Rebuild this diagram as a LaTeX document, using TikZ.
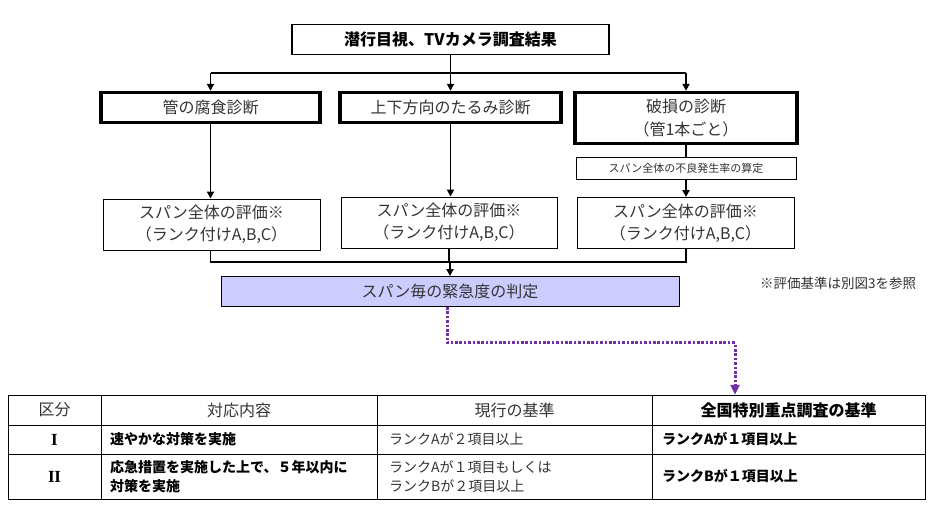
\documentclass[tikz,border=0pt]{standalone}
\usepackage{fontspec}
\setmainfont{Noto Sans CJK JP}
\newfontfamily\romanfont{Liberation Serif}
\usetikzlibrary{arrows.meta,calc}
\definecolor{txt}{HTML}{333333}
\definecolor{lav}{HTML}{CCCCFF}
\definecolor{purp}{HTML}{7030A0}
\begin{document}
\begin{tikzpicture}[x=1pt,y=-1pt,
  thickbox/.style={draw=black,line width=3.4pt,inner sep=0pt,text=txt,font=\fontsize{16}{23}\selectfont,align=center},
  thinbox/.style={draw=black,line width=0.9pt,inner sep=0pt,text=txt,align=center},
  conn/.style={line width=1.8pt,draw=black},
  arr/.style={conn,-{Triangle[length=7pt,width=7pt]}},
  cell/.style={anchor=center,inner sep=0pt,text=black},
  lcell/.style={anchor=west,inner sep=0pt,text=black,align=left},
]
\useasboundingbox (0,0) rectangle (939,520);
\fill[white] (0,0) rectangle (939,520);

% title
\node[draw=black,line width=1.2pt,minimum width=317pt,minimum height=30pt,inner sep=0pt,font=\fontsize{16}{20}\selectfont\bfseries] (t) at (450.5,39.5) {潜行目視、TVカメラ調査結果};

% diagnosis boxes
\node[thickbox,minimum width=219pt,minimum height=30pt] (a) at (210.5,107.5) {管の腐食診断};
\node[thickbox,minimum width=221pt,minimum height=30pt] (b) at (450.5,107.5) {上下方向のたるみ診断};
\node[thickbox,minimum width=222pt,minimum height=51pt] (c) at (686,118) {破損の診断\\（管1本ごと）};

% small box
\node[thinbox,minimum width=220pt,minimum height=22pt,font=\fontsize{11}{12}\selectfont] (s) at (686,168.5) {スパン全体の不良発生率の算定};

% evaluation boxes
\node[thinbox,minimum width=217pt,minimum height=51pt,font=\fontsize{16}{22}\selectfont] (e1) at (211.5,224.5) {スパン全体の評価※\\（ランク付けA,B,C）};
\node[thinbox,minimum width=216pt,minimum height=51pt,font=\fontsize{16}{22}\selectfont] (e2) at (449,222.5) {スパン全体の評価※\\（ランク付けA,B,C）};
\node[thinbox,minimum width=217pt,minimum height=51pt,font=\fontsize{16}{22}\selectfont] (e3) at (685.5,223) {スパン全体の評価※\\（ランク付けA,B,C）};

% urgency box
\node[thinbox,fill=lav,minimum width=458pt,minimum height=30pt,font=\fontsize{16}{20}\selectfont] (p) at (450,291.5) {スパン毎の緊急度の判定};

% note
\node[inner sep=0pt,text=txt,font=\fontsize{13.5}{16}\selectfont] (n) at (838,283) {※評価基準は別図3を参照};

% connectors
\coordinate (br) at (450.5,73);
\coordinate (jn) at (449,262);
\draw[conn] (t.south) -- (br);
\draw[conn] (a.north |- br) -- (c.north |- br);
\draw[arr] (a.north |- br) -- (a.north);
\draw[arr] (br) -- (b.north);
\draw[arr] (c.north |- br) -- (c.north);
\draw[conn] (c.south) -- (s.north);
\draw[arr] (s.south) -- (s.south |- e3.north);
\draw[arr] (a.south) -- (a.south |- e1.north);
\draw[arr] (b.south) -- (b.south |- e2.north);
\draw[conn] (e1.south -| a.south) -- (a.south |- jn) -- (c.south |- jn) -- (c.south |- e3.south);
\draw[conn] (e2.south) -- (e2.south |- jn);
\draw[arr] (p.north |- jn) -- (p.north);

% table geometry
\coordinate (arrtip) at (735,395);
\draw[purp,line width=3pt,dash pattern=on 2.6pt off 1.8pt] ($(p.south)+(-3,0)$) -- ++(0,36) -| ($(arrtip)+(0,-9)$);
\draw[purp,fill=purp] ($(arrtip)+(-4.5,-10)$) -- ($(arrtip)+(4.5,-10)$) -- ($(arrtip)+(0,-1)$) -- cycle;

\draw[line width=0.9pt] (8,395) rectangle (925,499);
\draw[line width=0.9pt] (8,425) -- (925,425);
\draw[line width=0.9pt] (8,454) -- (925,454);
\draw[line width=0.9pt] (101,395) -- (101,499);
\draw[line width=0.9pt] (377,395) -- (377,499);
\draw[line width=0.9pt] (652,395) -- (652,499);

% table header
\node[cell,text=txt,font=\fontsize{16}{20}\selectfont] (h1) at (54.5,410) {区分};
\node[cell,text=txt,font=\fontsize{16}{20}\selectfont] (h2) at (239,410) {対応内容};
\node[cell,text=txt,font=\fontsize{16}{20}\selectfont] (h3) at (514.5,410) {現行の基準};
\node[cell,font=\fontsize{16}{20}\selectfont\bfseries] (h4) at (788.5,410) {全国特別重点調査の基準};

% row 1
\node[cell,font=\fontsize{17}{19}\romanfont\bfseries] (r1a) at (54.5,439.5) {I};
\node[lcell,font=\fontsize{14}{19}\selectfont\bfseries] (r1b) at (110,439.5) {速やかな対策を実施};
\node[lcell,text=txt,font=\fontsize{14}{19}\selectfont] (r1c) at (389,439.5) {ランクAが２項目以上};
\node[lcell,font=\fontsize{14}{19}\selectfont\bfseries] (r1d) at (662,439.5) {ランクAが１項目以上};

% row 2
\node[cell,font=\fontsize{17}{19}\romanfont\bfseries] (r2a) at (54.5,476.5) {I\kern-0.5ptI};
\node[lcell,font=\fontsize{14}{19}\selectfont\bfseries] (r2b) at (110,476.5) {応急措置を実施した上で、５年以内に\\対策を実施};
\node[lcell,text=txt,font=\fontsize{14}{19}\selectfont] (r2c) at (389,476.5) {ランクAが１項目もしくは\\ランクBが２項目以上};
\node[lcell,font=\fontsize{14}{19}\selectfont\bfseries] (r2d) at (662,476.5) {ランクBが１項目以上};
\end{tikzpicture}
\end{document}
